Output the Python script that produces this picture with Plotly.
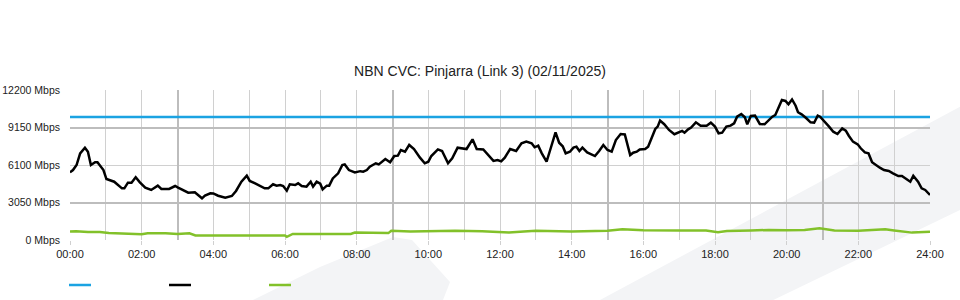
import plotly.graph_objects as go

# ---------------- data ----------------
x_tick_hours = [0, 2, 4, 6, 8, 10, 12, 14, 16, 18, 20, 22, 24]
x_tick_labels = ["00:00", "02:00", "04:00", "06:00", "08:00", "10:00", "12:00",
                 "14:00", "16:00", "18:00", "20:00", "22:00", "24:00"]
y_tick_values = [0, 3050, 6100, 9150, 12200]
y_tick_labels = ["0 Mbps", "3050 Mbps", "6100 Mbps", "9150 Mbps", "12200 Mbps"]

capacity_times = ["00:00", "24:00"]
capacity_mbps = [10000, 10000]

traffic_times = [
    "00:00", "00:05", "00:11", "00:17", "00:25", "00:30", "00:35", "00:42", "00:46", "00:52",
    "00:56", "01:01", "01:07", "01:14", "01:27", "01:31", "01:37", "01:43", "01:50", "01:57",
    "02:06", "02:16", "02:27", "02:33", "02:46", "02:56", "03:01", "03:10", "03:18", "03:29",
    "03:35", "03:41", "03:46", "03:55", "04:00", "04:08", "04:20", "04:31", "04:38", "04:47",
    "04:56", "05:01", "05:10", "05:18", "05:26", "05:32", "05:40", "05:46", "05:52", "05:57",
    "06:03", "06:08", "06:17", "06:22", "06:28", "06:36", "06:43", "06:47", "06:53", "06:59",
    "07:03", "07:10", "07:14", "07:20", "07:29", "07:36", "07:40", "07:47", "07:57", "08:06",
    "08:11", "08:17", "08:22", "08:32", "08:37", "08:48", "08:56", "09:03", "09:09", "09:14",
    "09:21", "09:28", "09:36", "09:46", "09:54", "10:00", "10:05", "10:16", "10:23", "10:33",
    "10:40", "10:49", "10:59", "11:04", "11:14", "11:21", "11:32", "11:42", "11:49", "11:56",
    "12:02", "12:08", "12:17", "12:27", "12:36", "12:44", "12:53", "12:58", "13:04", "13:10",
    "13:18", "13:24", "13:33", "13:39", "13:45", "13:50", "13:57", "14:03", "14:08", "14:13",
    "14:18", "14:26", "14:39", "14:46", "14:53", "15:00", "15:07", "15:14", "15:22", "15:29",
    "15:38", "15:43", "15:49", "15:54", "16:03", "16:08", "16:14", "16:20", "16:24", "16:28",
    "16:35", "16:43", "16:52", "16:57", "17:05", "17:09", "17:15", "17:20", "17:28", "17:36",
    "17:46", "17:53", "18:00", "18:06", "18:12", "18:19", "18:26", "18:32", "18:37", "18:44",
    "18:50", "18:54", "19:00", "19:07", "19:15", "19:23", "19:30", "19:36", "19:41", "19:46",
    "19:52", "19:58", "20:03", "20:09", "20:15", "20:19", "20:25", "20:33", "20:40", "20:46",
    "20:52", "20:56", "21:03", "21:11", "21:18", "21:25", "21:33", "21:39", "21:44", "21:51",
    "21:59", "22:04", "22:11", "22:17", "22:23", "22:29", "22:36", "22:43", "22:51", "22:58",
    "23:07", "23:13", "23:19", "23:27", "23:32", "23:40", "23:46", "23:52", "24:00",
]
traffic_mbps = [
    5500, 5690, 6100, 7050, 7510, 7180, 6100, 6320, 6320, 5880,
    5690, 4960, 4880, 4740, 4200, 4200, 4660, 4660, 5100, 4690,
    4260, 4070, 4420, 4150, 4150, 4390, 4260, 4040, 3850, 3880,
    3660, 3390, 3610, 3800, 3790, 3600, 3440, 3580, 3990, 4740,
    5230, 4800, 4610, 4390, 4200, 4200, 4530, 4420, 4470, 4390,
    4010, 4530, 4470, 4610, 4390, 4340, 4740, 4340, 4740, 4580,
    4120, 4420, 4420, 5010, 5420, 6100, 6150, 5690, 5500, 5600,
    5560, 5690, 5960, 6240, 6150, 6590, 6320, 6830, 6860, 7320,
    7180, 7730, 7400, 6700, 6240, 6370, 6830, 7370, 7240, 6240,
    6640, 7510, 7450, 7400, 8190, 7400, 7370, 6860, 6430, 6510,
    6400, 6700, 7400, 7240, 7860, 8000, 7860, 7540, 7670, 7050,
    6370, 7320, 8760, 7910, 7620, 7050, 7180, 7510, 7590, 7240,
    7510, 7130, 6830, 7240, 7730, 7320, 7180, 8130, 8620, 8590,
    6910, 7100, 7180, 7370, 7400, 7590, 8270, 9030, 9220, 9710,
    9420, 8950, 8600, 8730, 8870, 8730, 9000, 9140, 9570, 9300,
    9300, 9540, 9220, 8680, 8730, 9220, 9300, 9490, 10030, 10250,
    9980, 9410, 10090, 10120, 9440, 9410, 9760, 10030, 10170, 10760,
    11390, 11310, 11040, 11430, 10920, 10390, 10220, 9900, 9570, 9540,
    10110, 10030, 9680, 9220, 8810, 8620, 9080, 8900, 8480, 8000,
    7780, 7460, 7130, 7050, 6320, 6100, 5880, 5690, 5610, 5420,
    5200, 5200, 5010, 4740, 5230, 4740, 4200, 4070, 3660,
]

upload_times = [
    "00:00", "00:10", "00:30", "00:50", "01:05", "01:30", "02:00", "02:10", "02:40", "03:00",
    "03:20", "03:30", "06:00", "06:03", "06:13", "07:50", "07:57", "08:53", "08:58", "09:30",
    "10:00", "10:45", "11:30", "12:00", "12:15", "12:40", "13:00", "14:00", "14:30", "15:00",
    "15:25", "15:45", "16:00", "17:00", "17:45", "18:05", "18:20", "19:00", "19:30", "20:00",
    "20:30", "20:55", "21:20", "22:00", "22:30", "22:45", "23:00", "23:30", "24:00",
]
upload_mbps = [
    700, 720, 650, 650, 570, 545, 460, 545, 545, 480,
    545, 370, 370, 260, 490, 490, 600, 560, 760, 700,
    720, 760, 720, 650, 620, 700, 760, 700, 720, 760,
    870, 800, 800, 780, 770, 640, 740, 770, 820, 800,
    820, 950, 780, 760, 820, 880, 780, 600, 680,
]


def to_hours(t):
    h, m = t.split(":")
    return int(h) + int(m) / 60.0


W, H = 960, 300
L, R, T, B = 70, 30, 90, 60
PW, PH = W - L - R, H - T - B


def px(x):
    return (x - L) / PW


def py(y):
    return (H - B - y) / PH


BLUE = "#1ba3e2"
BLACK = "#000000"
GREEN = "#82c12a"
GRID = "#d0d0d0"
GRID_DARK = "#bdbdbd"
WM = "#f3f4f6"
FONT = "Liberation Sans, Arial, sans-serif"

fig = go.Figure()

fig.add_trace(go.Scatter(
    x=[to_hours(t) for t in capacity_times], y=capacity_mbps,
    mode="lines", line=dict(color=BLUE, width=2.5),
    showlegend=False, hoverinfo="skip", xaxis="x", yaxis="y"))

fig.add_trace(go.Scatter(
    x=[to_hours(t) for t in upload_times], y=upload_mbps,
    mode="lines", line=dict(color=GREEN, width=2.5),
    showlegend=False, hoverinfo="skip", xaxis="x2", yaxis="y2"))

fig.add_trace(go.Scatter(
    x=[to_hours(t) for t in traffic_times], y=traffic_mbps,
    mode="lines", line=dict(color=BLACK, width=2.5),
    showlegend=False, hoverinfo="skip", xaxis="x2", yaxis="y2"))

# watermark shapes (background)
band = [(600, 300), (960, 106.7), (960, 210), (773.3, 300)]
blob = [(253, 300), (320, 267), (393, 237), (412, 240), (450, 282), (443, 300)]
shapes = []
for poly in (band, blob):
    path = "M " + " L ".join(f"{px(a):.4f},{py(b):.4f}" for a, b in poly) + " Z"
    shapes.append(dict(type="path", path=path, xref="paper", yref="paper",
                       fillcolor=WM, line=dict(width=0), layer="below"))

# legend swatches (no text)
for color, x0 in ((BLUE, 69), (BLACK, 169), (GREEN, 269)):
    shapes.append(dict(type="line", xref="paper", yref="paper",
                       x0=px(x0), x1=px(x0 + 22), y0=py(285), y1=py(285),
                       line=dict(color=color, width=2.5), layer="above"))

xtickfont = dict(family=FONT, size=11, color="#222")
ytickfont = dict(family=FONT, size=10.5, color="#222")

fig.update_layout(
    width=W, height=H,
    margin=dict(l=L, r=R, t=T, b=B, autoexpand=False),
    paper_bgcolor="white",
    plot_bgcolor="rgba(0,0,0,0)",
    font=dict(family=FONT, color="#222"),
    title=dict(text="NBN CVC: Pinjarra (Link 3) (02/11/2025)",
               x=0.5, xref="container", xanchor="center",
               y=1 - 71 / H, yref="container", yanchor="middle",
               font=dict(family=FONT, size=14, color="#222")),
    shapes=shapes,
    showlegend=False,
    xaxis=dict(range=[0, 24], tickmode="array", tickvals=x_tick_hours,
               ticktext=x_tick_labels, showgrid=True, gridcolor=GRID, gridwidth=1,
               minor=dict(tickmode="linear", tick0=0, dtick=1, showgrid=True,
                          gridcolor=GRID, gridwidth=1, ticks=""),
               zeroline=False, showline=False, ticks="outside", ticklen=4,
               tickcolor=GRID, tickfont=xtickfont, fixedrange=True, automargin=False),
    yaxis=dict(range=[0, 12200], tickmode="array", tickvals=y_tick_values,
               ticktext=y_tick_labels, showgrid=True, gridcolor=GRID, gridwidth=1,
               zeroline=False, showline=False, ticks="", tickfont=ytickfont,
               ticklabelstandoff=9, fixedrange=True, automargin=False),
    xaxis2=dict(range=[0, 24], overlaying="x", tickmode="array", tickvals=[3, 9, 15, 21],
                showticklabels=False, showgrid=True, gridcolor=GRID_DARK, gridwidth=2,
                zeroline=False, showline=False, ticks="", fixedrange=True, automargin=False),
    yaxis2=dict(range=[0, 12200], overlaying="y", tickmode="array", tickvals=[3050, 9150],
                showticklabels=False, showgrid=True, gridcolor=GRID_DARK, gridwidth=2,
                zeroline=False, showline=False, ticks="", fixedrange=True, automargin=False),
)

fig.write_html("out.html", config={"displayModeBar": False})
